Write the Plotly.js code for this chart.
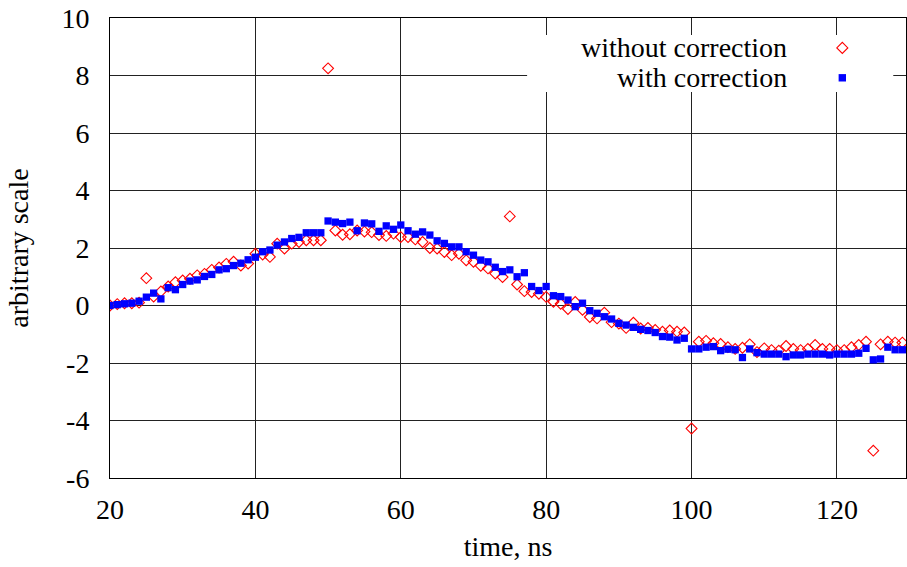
<!DOCTYPE html>
<html>
<head>
<meta charset="utf-8">
<script src="https://cdn.plot.ly/plotly-3.0.1.min.js"></script>
<style>html,body{margin:0;padding:0;background:#fff;}#chart{width:907px;height:567px;}</style>
</head>
<body>
<div id="chart"></div>
<script>
const time = [20,21,22,23,24,25,26,27,28,29,30,31,32,33,34,35,36,37,38,39,40,41,42,43,44,45,46,47,48,49,50,51,52,53,54,55,56,57,58,59,60,61,62,63,64,65,66,67,68,69,70,71,72,73,74,75,76,77,78,79,80,81,82,83,84,85,86,87,88,89,90,91,92,93,94,95,96,97,98,99,100,101,102,103,104,105,106,107,108,109,110,111,112,113,114,115,116,117,118,119,120,121,122,123,124,125,126,127,128,129];

const withoutCorrection = [0.00,0.05,0.08,0.08,0.10,0.95,0.31,0.49,0.66,0.81,
0.87,0.93,1.05,1.10,1.24,1.32,1.45,1.52,1.39,1.46,
1.80,1.77,1.69,2.15,1.98,2.15,2.21,2.27,2.27,2.27,
8.25,2.61,2.46,2.48,2.61,2.57,2.55,2.45,2.42,2.50,
2.38,2.38,2.30,2.21,2.00,1.98,1.86,1.75,1.80,1.57,
1.52,1.38,1.29,1.11,0.99,3.10,0.73,0.50,0.47,0.41,
0.30,0.13,0.06,-0.12,0.12,-0.15,-0.40,-0.45,-0.25,-0.58,
-0.63,-0.78,-0.60,-0.80,-0.78,-0.85,-0.91,-0.87,-0.91,-0.94,
-4.28,-1.26,-1.23,-1.31,-1.34,-1.45,-1.51,-1.47,-1.35,-1.62,
-1.49,-1.55,-1.57,-1.41,-1.51,-1.55,-1.51,-1.37,-1.51,-1.51,
-1.55,-1.55,-1.45,-1.37,-1.26,-5.05,-1.35,-1.26,-1.29,-1.29];

const withCorrection = [0.00,0.03,0.06,0.08,0.15,0.29,0.43,0.23,0.62,0.55,
0.73,0.85,0.89,1.01,1.08,1.24,1.28,1.39,1.47,1.59,
1.68,1.87,1.93,2.10,2.21,2.33,2.37,2.53,2.53,2.53,
2.94,2.90,2.85,2.90,2.60,2.87,2.84,2.58,2.77,2.65,
2.80,2.60,2.48,2.56,2.45,2.25,2.16,2.04,2.04,1.87,
1.75,1.58,1.52,1.33,1.18,1.24,1.00,1.14,0.66,0.52,
0.66,0.34,0.31,0.19,-0.04,0.08,-0.18,-0.27,-0.39,-0.47,
-0.62,-0.68,-0.76,-0.83,-0.87,-0.94,-1.08,-1.10,-1.20,-1.14,
-1.51,-1.51,-1.45,-1.43,-1.57,-1.52,-1.54,-1.81,-1.51,-1.64,
-1.69,-1.69,-1.69,-1.78,-1.72,-1.72,-1.69,-1.69,-1.69,-1.72,
-1.69,-1.69,-1.69,-1.66,-1.49,-1.89,-1.86,-1.45,-1.54,-1.54];

const xTicks = [20,40,60,80,100,120];
const yTicks = [-6,-4,-2,0,2,4,6,8,10];
const seriesNames = ["without correction", "with correction"];

const FONT = "'Liberation Serif', 'Times New Roman', serif";
const FS = 28;

const traces = [
  {
    x: time, y: withoutCorrection, type: 'scatter', mode: 'markers', name: seriesNames[0],
    marker: {symbol: 'diamond-open', size: 8.3, color: '#ff0000', line: {color: '#ff0000', width: 1.1}},
    cliponaxis: true
  },
  {
    x: time, y: withCorrection, type: 'scatter', mode: 'markers', name: seriesNames[1],
    marker: {symbol: 'square', size: 7.3, color: '#0000ff', line: {width: 0}},
    cliponaxis: true
  }
];

// legend geometry (paper coords)
const legX0 = 0.524, legX1 = 0.984, legY0 = 0.839, legY1 = 0.963;
const legTextX = 0.853, legMarkX = 0.920;
const legRowY = [0.935, 0.870];

const layout = {
  width: 907, height: 567,
  margin: {l: 110, r: 1, t: 18, b: 89},
  paper_bgcolor: '#ffffff', plot_bgcolor: '#ffffff',
  showlegend: false,
  font: {family: FONT, size: FS, color: '#000'},
  xaxis: {
    range: [20, 129.5], tickvals: xTicks, ticktext: xTicks.map(String),
    showgrid: true, gridcolor: '#222', gridwidth: 1,
    zeroline: false, showline: true, linecolor: '#000', linewidth: 1, mirror: true,
    ticks: '', ticklabelstandoff: 6,
    tickfont: {family: FONT, size: FS, color: '#000'},
    title: {text: 'time, ns', font: {family: FONT, size: FS, color: '#000'}, standoff: 12},
    automargin: false
  },
  yaxis: {
    range: [-6, 10], tickvals: yTicks, ticktext: yTicks.map(String),
    showgrid: true, gridcolor: '#222', gridwidth: 1,
    zeroline: false, showline: true, linecolor: '#000', linewidth: 1, mirror: true,
    ticks: '', ticklabelstandoff: 14,
    tickfont: {family: FONT, size: FS, color: '#000'},
    title: {text: 'arbitrary scale', font: {family: FONT, size: FS, color: '#000'}, standoff: 24},
    automargin: false
  },
  shapes: [
    {type: 'rect', xref: 'paper', yref: 'paper', x0: legX0, x1: legX1, y0: legY0, y1: legY1,
     fillcolor: '#ffffff', line: {width: 0}, layer: 'above'},
    {type: 'path', xref: 'paper', yref: 'paper', xsizemode: 'pixel', ysizemode: 'pixel',
     xanchor: legMarkX, yanchor: legRowY[0],
     path: 'M -5.5 0 L 0 5.5 L 5.5 0 L 0 -5.5 Z', line: {color: '#ff0000', width: 1.1}, fillcolor: 'rgba(0,0,0,0)', layer: 'above'},
    {type: 'rect', xref: 'paper', yref: 'paper', xsizemode: 'pixel', ysizemode: 'pixel',
     xanchor: legMarkX, yanchor: legRowY[1], x0: -3.7, x1: 3.7, y0: -3.7, y1: 3.7,
     fillcolor: '#0000ff', line: {width: 0}, layer: 'above'}
  ],
  annotations: seriesNames.map((n, i) => ({
    xref: 'paper', yref: 'paper', x: legTextX, y: legRowY[i], xanchor: 'right', yanchor: 'middle',
    text: n, showarrow: false, font: {family: FONT, size: FS, color: '#000'}
  }))
};

Plotly.newPlot('chart', traces, layout, {staticPlot: true, displayModeBar: false});
</script>
</body>
</html>
